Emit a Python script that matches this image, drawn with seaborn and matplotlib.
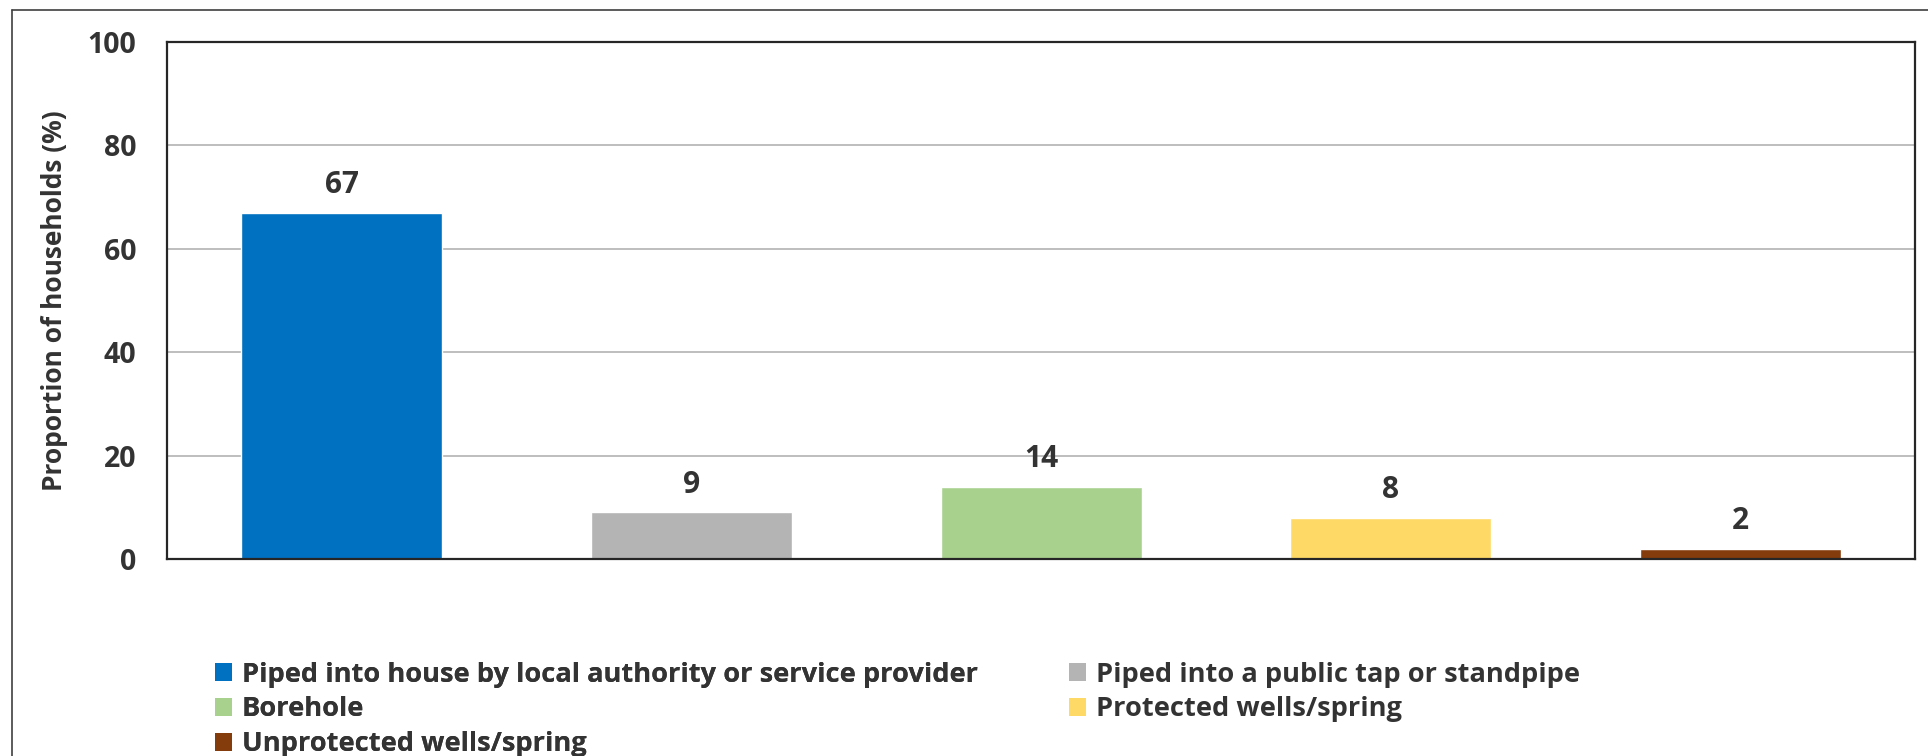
import matplotlib
matplotlib.use("Agg")
import matplotlib.pyplot as plt
from matplotlib.lines import Line2D
from matplotlib.patches import Patch
import seaborn as sns
import pandas as pd

# Main source of drinking water
sources = [
    "Piped into house by local authority or service provider",
    "Piped into a public tap or standpipe",
    "Borehole",
    "Protected wells/spring",
    "Unprotected wells/spring",
]
shares = [67, 9, 14, 8, 2]
bar_colors = ["#0070C0", "#B4B4B4", "#A9D18E", "#FFD966", "#843C0C"]
y_ticks = [0, 20, 40, 60, 80, 100]
y_title = "Proportion of households (%)"

TEXT = "#333333"
FAMILY = ["Open Sans", "DejaVu Sans"]

sns.set_theme(style="white")
plt.rcParams["font.family"] = FAMILY
plt.rcParams["font.weight"] = "bold"

df = pd.DataFrame({"source": sources, "share": shares})

fig = plt.figure(figsize=(19.28, 7.56), dpi=100)
ax = fig.add_axes([0.0866, 0.2606, 0.9067, 0.6838])

sns.barplot(
    data=df, x="source", y="share", hue="source",
    palette=bar_colors, saturation=1, width=0.575,
    legend=False, ax=ax,
)

for cont in ax.containers:
    ax.bar_label(cont, fmt="%d", padding=9, fontsize=21.5,
                 fontweight="bold", color=TEXT)

ax.set_ylim(0, 100)
ax.set_xlim(-0.5, len(sources) - 0.5)
ax.set_yticks(y_ticks)
ax.set_yticklabels([str(t) for t in y_ticks], fontsize=20.5,
                   fontweight="bold", color=TEXT)
ax.set_xticks([])
ax.set_xlabel("")
ax.set_ylabel(y_title, fontsize=19, fontweight="bold", color=TEXT,
              labelpad=14)
ax.tick_params(axis="y", length=0, pad=22)

ax.yaxis.grid(True, color="#B3B3B3", linewidth=1.2)
ax.set_axisbelow(True)
for sp in ax.spines.values():
    sp.set_visible(True)
    sp.set_color("#262626")
    sp.set_linewidth(1.6)

# Legend in two independent columns
handles = [Patch(facecolor=c, edgecolor="none") for c in bar_colors]
leg_kw = dict(
    loc="upper left", frameon=False, borderpad=0, borderaxespad=0,
    handlelength=0.64, handleheight=0.64, handletextpad=0.35,
    labelspacing=0.33, labelcolor=TEXT,
    prop={"family": FAMILY, "weight": "bold", "size": 19.6},
)
left_idx = [0, 2, 4]
right_idx = [1, 3]
leg1 = fig.legend([handles[i] for i in left_idx], [sources[i] for i in left_idx],
                  bbox_to_anchor=(0.1115, 0.125), **leg_kw)
fig.add_artist(leg1)
fig.legend([handles[i] for i in right_idx], [sources[i] for i in right_idx],
           bbox_to_anchor=(0.5545, 0.125), **leg_kw)

# Outer chart-area frame
fig.add_artist(Line2D([12 / 1928, 12 / 1928], [0, 1 - 10 / 756],
                      transform=fig.transFigure, color="#404040", lw=1.2))
fig.add_artist(Line2D([12 / 1928, 1], [1 - 10 / 756, 1 - 10 / 756],
                      transform=fig.transFigure, color="#404040", lw=1.2))

fig.savefig("out.png", dpi=100, facecolor="white")
